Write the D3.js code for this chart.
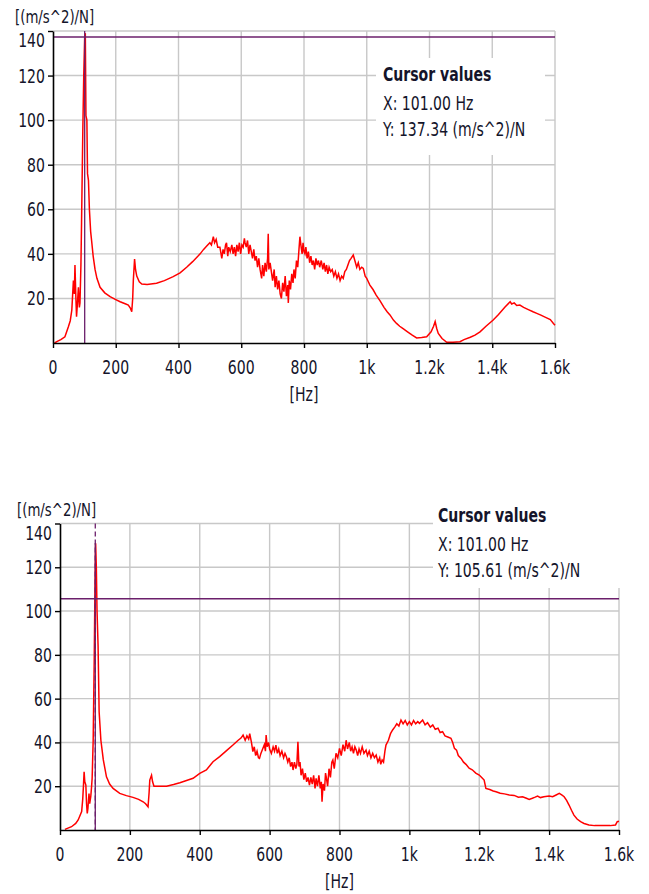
<!DOCTYPE html>
<html>
<head>
<meta charset="utf-8">
<script src="https://cdn.jsdelivr.net/npm/d3@7"></script>
<style>
  body { margin: 0; background: #fff; }
  text { font-family: "DejaVu Sans", Verdana, sans-serif; fill: #14142a; }
</style>
</head>
<body>
<svg id="chart" width="649" height="894"></svg>
<script>
// frequency response, first measurement: [Hz, (m/s^2)/N]
let topSpectrum = [
  [5,0],[12,0.6],[25,1.5],[38,2.8],[49,7.3],[55,10],[60,14.8],[65,28],[68,22],[70,35],[73,20],[75,11.8],[78,18],
  [81,25],[84,16],[86,18],[89,35],[91,54],[95,95],[98,120],[101,137.3],[103,139],[105,102],[108,100],[110,76],
  [113,73],[116,60],[120,50],[123,46],[128,39],[134,33],[140,29],[150,25],[165,22.5],[182,20.8],[200,19.5],
  [214,18.5],[230,17.6],[240,17],[247,15.5],[251,14],[254,20],[256,28],[260,37.7],[263,33],[267,30],[275,27.5],
  [283,26.5],[300,26.3],[330,26.8],[355,28],[383,29.8],[405,31.5],[426,34],[445,36.5],[469,40],[480,42],[490,43.5],
  [500,45],[505,44],[511,47.7],[515,45],[520,46.5],[525,43],[532,43],[538,38],[542,42],[546,40],[550,44],[553,45],
  [557,39],[560,43],[565,41],[570,44],[574,40],[578,43],[582,39],[586,44],[590,41],[594,45],[598,40],[602,44],
  [606,43],[610,47],[612,45],[616,43],[620,46],[624,40],[628,44],[632,41],[636,38],[640,42],[644,37],[648,39],
  [652,34],[656,38],[660,33],[665,29],[668,35],[672,30],[676,36],[680,32],[684,38],[686,49],[688,33],[692,36],
  [697,31],[700,28],[705,33],[708,25],[712,30],[716,24],[720,28],[724,22],[728,20],[732,27],[736,23],[740,30],
  [744,21],[748,26],[750,18],[753,28],[757,24],[761,31],[765,27],[768,33],[772,29],[776,37],[780,34],[784,42],
  [787,47.7],[790,44],[794,40],[797,45],[800,41],[803,40],[806,43],[810,38],[814,41],[818,36],[822,39],[826,35],
  [830,37],[834,33],[838,38],[842,35],[846,37],[850,34],[855,37],[860,33],[864,36],[868,32],[872,35],[876,31],
  [880,34],[885,32],[890,33],[895,30],[900,32],[905,29],[910,31],[915,28],[920,30],[925,29],[930,32],[935,33],
  [940,35],[945,37],[950,38],[957,39.5],[962,37],[968,34],[973,36],[978,33],[984,34],[989,33.5],[995,30],
  [1000,29],[1005,27.5],[1010,26],[1020,24],[1030,21.5],[1042,19],[1055,16],[1065,14],[1074,12.6],[1085,10.3],
  [1095,8.8],[1105,7.5],[1117,6.3],[1130,5],[1145,3.5],[1159,2.3],[1175,2.5],[1191,2.8],[1205,5],[1213,7.5],
  [1218,9.6],[1223,6.5],[1228,4.3],[1240,2],[1255,0.3],[1275,0.3],[1297,0.6],[1310,1.5],[1330,2.6],[1345,3.5],
  [1361,5],[1380,7.5],[1403,10.3],[1420,12.8],[1440,16],[1457,18.5],[1462,17.5],[1470,18],[1478,16.8],[1488,17],
  [1500,16],[1515,15],[1530,14],[1542,13.3],[1555,12.5],[1570,11.5],[1585,10.5],[1595,8.8],[1600,8]
];

// second measurement
let bottomSpectrum = [
  [14,0.3],[33,1.5],[45,3],[52,4.6],[62,8.4],[65,14],[67,19.8],[69,26.6],[71,22],[74,20.5],[76,12],[78,7.6],
  [80,10],[83,16.7],[85,12],[88,15.2],[90,19],[92,23.6],[95,41],[98,78],[100,110],[102,131],[104,120],[106,100],
  [109,84],[112,54],[117,41],[124,32],[133,24.3],[142,21],[152,19],[171,16.7],[190,15.7],[209,14.9],[225,14],
  [238,12.9],[245,12],[252,10.6],[255,17],[257,22.8],[262,25],[265,22],[269,20],[285,20],[305,20],[325,20.8],
  [343,21.6],[360,22.5],[381,23.6],[400,25.9],[419,27.4],[438,31.2],[457,33.5],[475,36],[495,38.8],[510,41],
  [518,42],[524,43.4],[530,41],[535,43],[540,41.5],[543,44],[548,40],[552,35.8],[556,38],[560,34],[564,36],
  [568,33],[571,32.7],[575,35],[580,37],[585,39],[588,36],[590,43.4],[593,38],[597,40],[600,37],[605,35],
  [610,38],[614,36],[618,38.8],[622,35],[626,37],[630,34],[635,36],[640,33],[644,35],[648,33.5],[652,31],
  [656,33],[660,29],[664,31],[667,27.4],[671,31],[675,28],[678,30],[681,40.3],[684,29],[687,31],[690,25],
  [694,28],[698,23],[702,26],[706,22],[710,24],[714,20.5],[718,24],[722,21],[726,25],[730,19],[733,23.6],
  [737,20],[741,25],[745,19],[748,22],[750,12.9],[753,21],[757,18],[760,26],[762,24.3],[766,20],[770,28],
  [774,24],[778,31],[781,32],[785,28],[790,35],[795,33],[800,37.3],[805,34],[810,39],[815,36],[819,41],[823,37],
  [828,40],[832,36],[836,38],[840,35],[844,38],[848,36.5],[852,34],[856,37],[860,35],[865,38],[870,35],
  [876,36.5],[880,34],[885,36],[890,33],[895,35],[900,33],[905,34.2],[910,31],[915,33],[918,30],[922,32],
  [926,31],[930,36],[933,38.8],[940,41],[946,44],[952,45.7],[958,47],[964,48.5],[970,47.5],[976,50.2],[982,48.5],
  [988,50],[994,48],[1000,49.5],[1006,48],[1012,50],[1018,48.5],[1024,49.5],[1029,48.7],[1038,50.2],[1045,48],
  [1052,49],[1060,47],[1067,48],[1074,46],[1082,46.5],[1088,44.5],[1095,44.9],[1102,43],[1110,42.5],[1119,41.9],
  [1124,40],[1129,37.3],[1135,36.5],[1140,34],[1148,32.7],[1155,31],[1162,30],[1171,28.2],[1180,27.5],[1190,26],
  [1200,25.1],[1207,24],[1214,22.8],[1219,19],[1230,18.5],[1240,17.8],[1248,17.5],[1260,16.8],[1272,16.5],
  [1286,16],[1300,15.8],[1312,15],[1324,15.2],[1335,14.5],[1343,14],[1352,14.5],[1360,15],[1367,15.5],
  [1375,14.8],[1385,15.2],[1400,15.5],[1410,15.2],[1420,16],[1429,16.7],[1436,16],[1443,15.2],[1450,13.5],
  [1457,11.4],[1464,9],[1471,6.8],[1480,5],[1490,3.8],[1500,3],[1514,2.3],[1530,2],[1545,2],[1562,2],[1575,2],
  [1590,2.3],[1595,3.8],[1600,4]
];

let xTicks = [0, 200, 400, 600, 800, 1000, 1200, 1400, 1600];
let xTickLabels = ["0", "200", "400", "600", "800", "1k", "1.2k", "1.4k", "1.6k"];
let yTicks = [20, 40, 60, 80, 100, 120, 140];
let cursorX = [101.00, 101.00];
let cursorY = [137.34, 105.61];

let svg = d3.select("#chart");

// text in the reference is narrow, squeeze it horizontally
function label(g, x, y, str, anchor = "start", bold = false, size = 19) {
    return g.append("text")
        .attr("transform", "translate(" + x + "," + y + ") scale(0.74,1)")
        .attr("text-anchor", anchor)
        .style("font-size", size + "px")
        .style("font-weight", bold ? "bold" : "normal")
        .text(str);
}

function drawPanel(data, box, legend, cx, cy) {
    let g = svg.append("g");

    let x = d3.scaleLinear().domain([0, 1600]).range([box.left, box.right]);
    let y = d3.scaleLinear().domain([0, 140]).range([box.bottom, box.top]);

    // grid
    g.selectAll("line.vgrid").data(xTicks.slice(1)).join("line")
        .attr("x1", d => x(d)).attr("x2", d => x(d))
        .attr("y1", box.top).attr("y2", box.bottom)
        .attr("stroke", "#c8c8c8").attr("stroke-width", 1.4);
    g.selectAll("line.hgrid").data(yTicks).join("line")
        .attr("x1", box.left).attr("x2", box.right)
        .attr("y1", d => y(d)).attr("y2", d => y(d))
        .attr("stroke", "#c8c8c8").attr("stroke-width", 1.4);

    // cursor box hides the grid under it
    g.append("rect")
        .attr("x", legend.x0).attr("y", legend.y0)
        .attr("width", legend.x1 - legend.x0).attr("height", legend.y1 - legend.y0)
        .attr("fill", "#fff");

    let line = d3.line().x(d => x(d[0])).y(d => y(d[1]));
    g.append("path")
        .datum(data)
        .attr("d", line)
        .attr("fill", "none")
        .attr("stroke", "#ff0000")
        .attr("stroke-width", 1.5)
        .attr("stroke-linejoin", "miter");

    // cursor lines
    g.append("line")
        .attr("x1", box.left).attr("x2", box.right)
        .attr("y1", y(cy)).attr("y2", y(cy))
        .attr("stroke", "#6b1f6b").attr("stroke-width", 1.6);
    g.append("line")
        .attr("x1", x(cx)).attr("x2", x(cx))
        .attr("y1", box.top).attr("y2", box.bottom)
        .attr("stroke", "#6b1f6b").attr("stroke-width", 1.3)
        .attr("stroke-dasharray", legend.dashed ? "5,3" : null);
    if (legend.dashed) {
        let peak = d3.max(data, d => d[1]);
        g.append("line")
            .attr("x1", x(cx)).attr("x2", x(cx))
            .attr("y1", y(peak)).attr("y2", box.bottom)
            .attr("stroke", "#6b1f6b").attr("stroke-width", 1.3);
    }

    // axes
    let xAxis = d3.axisBottom(x).tickValues(xTicks).tickFormat("").tickSize(5).tickSizeOuter(0);
    g.append("g").attr("transform", "translate(0," + box.bottom + ")").call(xAxis)
        .call(a => a.select(".domain").attr("stroke", "#000").attr("stroke-width", 1.6))
        .call(a => a.selectAll(".tick line").attr("stroke", "#000").attr("stroke-width", 1.4));
    let yAxis = d3.axisLeft(y).tickValues(yTicks).tickFormat("").tickSize(5).tickSizeOuter(0);
    g.append("g").attr("transform", "translate(" + box.left + ",0)").call(yAxis)
        .call(a => a.select(".domain").attr("stroke", "#000").attr("stroke-width", 1.6))
        .call(a => a.selectAll(".tick line").attr("stroke", "#000").attr("stroke-width", 1.4));

    xTicks.forEach((t, i) => label(g, x(t), box.bottom + 31, xTickLabels[i], "middle"));
    yTicks.forEach(t => label(g, box.left - 8, Math.max(y(t) + 7, box.top + 16), String(t), "end"));

    label(g, (box.left + box.right) / 2, box.bottom + 58, "[Hz]", "middle");
    label(g, box.unitX, box.top - 8, "[(m/s^2)/N]", "start", false, 18);

    label(g, legend.tx, legend.ty, "Cursor values", "start", true);
    label(g, legend.tx, legend.ty + 29, "X: " + cx.toFixed(2) + " Hz");
    label(g, legend.tx, legend.ty + 55, "Y: " + cy.toFixed(2) + " (m/s^2)/N");
}

drawPanel(topSpectrum,
    { left: 53, right: 555, top: 31, bottom: 343, unitX: 15 },
    { x0: 376, x1: 545, y0: 58, y1: 155, tx: 383, ty: 81, dashed: false },
    cursorX[0], cursorY[0]);

drawPanel(bottomSpectrum,
    { left: 60, right: 619, top: 523.5, bottom: 830, unitX: 17 },
    { x0: 433, x1: 640, y0: 495, y1: 588, tx: 438, ty: 522, dashed: true },
    cursorX[1], cursorY[1]);
</script>
</body>
</html>
